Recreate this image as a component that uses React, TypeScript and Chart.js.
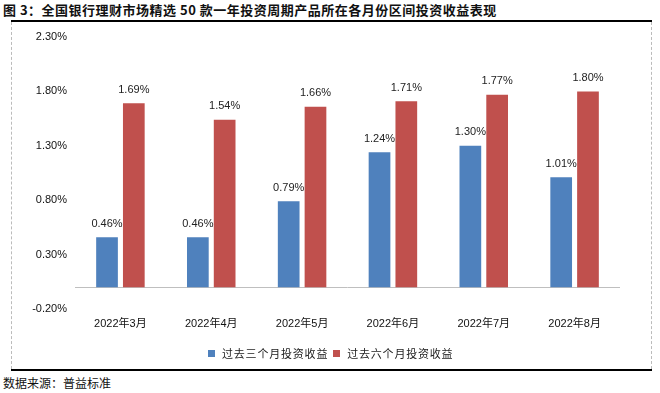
import React, { useEffect, useRef } from "react";
import { Chart, registerables } from "chart.js";

Chart.register(...registerables);

const categories = ["2022年3月", "2022年4月", "2022年5月", "2022年6月", "2022年7月", "2022年8月"];
const threeMonth = [0.46, 0.46, 0.79, 1.24, 1.30, 1.01];
const sixMonth = [1.69, 1.54, 1.66, 1.71, 1.77, 1.80];
const yTicks = [-0.2, 0.3, 0.8, 1.3, 1.8, 2.3];
const seriesNames = ["过去三个月投资收益", "过去六个月投资收益"];
const seriesColors = ["#4F81BD", "#C0504D"];
const titleText = "图 3：全国银行理财市场精选 50 款一年投资周期产品所在各月份区间投资收益表现";
const sourceText = "数据来源：普益标准";

const fmt = (v: number) => v.toFixed(2) + "%";

const labelPlugin = {
  id: "barLabels",
  beforeDatasetsDraw(chart: any) {
    const { ctx, chartArea, scales } = chart;
    const y0 = scales.y.getPixelForValue(0);
    ctx.save();
    ctx.strokeStyle = "#BFBFBF";
    ctx.lineWidth = 1;
    ctx.beginPath();
    ctx.moveTo(chartArea.left, Math.round(y0) + 0.5);
    ctx.lineTo(chartArea.right, Math.round(y0) + 0.5);
    ctx.stroke();
    ctx.restore();
  },
  afterDatasetsDraw(chart: any) {
    const { ctx } = chart;
    ctx.save();
    ctx.font = "11px 'Liberation Sans', Arial, sans-serif";
    ctx.fillStyle = "#222";
    ctx.textAlign = "center";
    ctx.textBaseline = "bottom";
    chart.data.datasets.forEach((ds: any, i: number) => {
      const meta = chart.getDatasetMeta(i);
      meta.data.forEach((bar: any, j: number) => {
        ctx.fillText(fmt(ds.data[j]), bar.x, bar.y - 8);
      });
    });
    ctx.restore();
  },
};

function ChartView() {
  const ref = useRef<HTMLCanvasElement>(null);
  useEffect(() => {
    if (!ref.current) return;
    const chart = new Chart(ref.current, {
      type: "bar",
      data: {
        labels: categories,
        datasets: [
          { label: seriesNames[0], data: threeMonth, backgroundColor: seriesColors[0], barPercentage: 0.81, categoryPercentage: 0.59 },
          { label: seriesNames[1], data: sixMonth, backgroundColor: seriesColors[1], barPercentage: 0.81, categoryPercentage: 0.59 },
        ],
      },
      options: {
        animation: false,
        responsive: false,
        maintainAspectRatio: false,
        layout: { padding: { top: 15, right: 30, left: 0, bottom: 29 } },
        plugins: {
          tooltip: { enabled: false },
          legend: { display: false },
        },
        scales: {
          x: {
            grid: { display: false, drawTicks: false },
            border: { display: false },
            ticks: {
              color: "#111",
              padding: 8,
              font: { family: "'Liberation Sans', 'Noto Sans CJK SC', sans-serif", size: 11 },
            },
            afterFit(scale: any) {
              scale.height = 30;
            },
          },
          y: {
            min: -0.2,
            max: 2.3,
            grid: { display: false, drawTicks: false },
            border: { display: false },
            afterBuildTicks(scale: any) {
              scale.ticks = yTicks.map((v) => ({ value: v }));
            },
            ticks: {
              color: "#111",
              padding: 8,
              font: { family: "'Liberation Sans', Arial, sans-serif", size: 11 },
              callback: (v: any) => fmt(Number(v)),
            },
            afterFit(scale: any) {
              scale.width = 63;
            },
          },
        },
      },
      plugins: [labelPlugin],
    });
    return () => chart.destroy();
  }, []);
  return <canvas ref={ref} width={638} height={346} style={{ position: "absolute", left: 12, top: 22, width: 638, height: 346 }} />;
}

function Legend() {
  return (
    <div style={{ position: "absolute", left: 208, top: 345, height: 16, display: "flex", alignItems: "center", whiteSpace: "nowrap" }}>
      {seriesNames.map((n, i) => (
        <div key={n} style={{ display: "flex", alignItems: "center", marginRight: i === 0 ? 5 : 0 }}>
          <span style={{ display: "inline-block", width: 7, height: 7, background: seriesColors[i], marginRight: 7 }} />
          <span style={{ fontSize: 11, letterSpacing: "0.8px", color: "#222", lineHeight: "16px" }}>{n}</span>
        </div>
      ))}
    </div>
  );
}

export default function App() {
  return (
    <div style={{ position: "absolute", left: 0, top: 0, width: 660, height: 393, background: "#fff", overflow: "hidden", fontFamily: "'Noto Sans CJK SC', sans-serif" }}>
      <div style={{ position: "absolute", left: 3, top: 1, fontSize: 13, fontWeight: 700, letterSpacing: "0.5px", color: "#111", whiteSpace: "nowrap", lineHeight: "18px" }}>{titleText}</div>
      <div style={{ position: "absolute", left: 11, top: 20, width: 641, height: 2, background: "#000" }} />
      <div style={{ position: "absolute", left: 11, top: 22, height: 347, borderLeft: "1px dashed #BBB" }} />
      <div style={{ position: "absolute", left: 651, top: 22, height: 347, borderLeft: "1px dashed #BBB" }} />
      <div style={{ position: "absolute", left: 11, top: 369, width: 641, height: 2, background: "#000" }} />
      <ChartView />
      <Legend />
      <div style={{ position: "absolute", left: 3, top: 374, fontSize: 12, color: "#111", whiteSpace: "nowrap", lineHeight: "18px" }}>{sourceText}</div>
    </div>
  );
}
